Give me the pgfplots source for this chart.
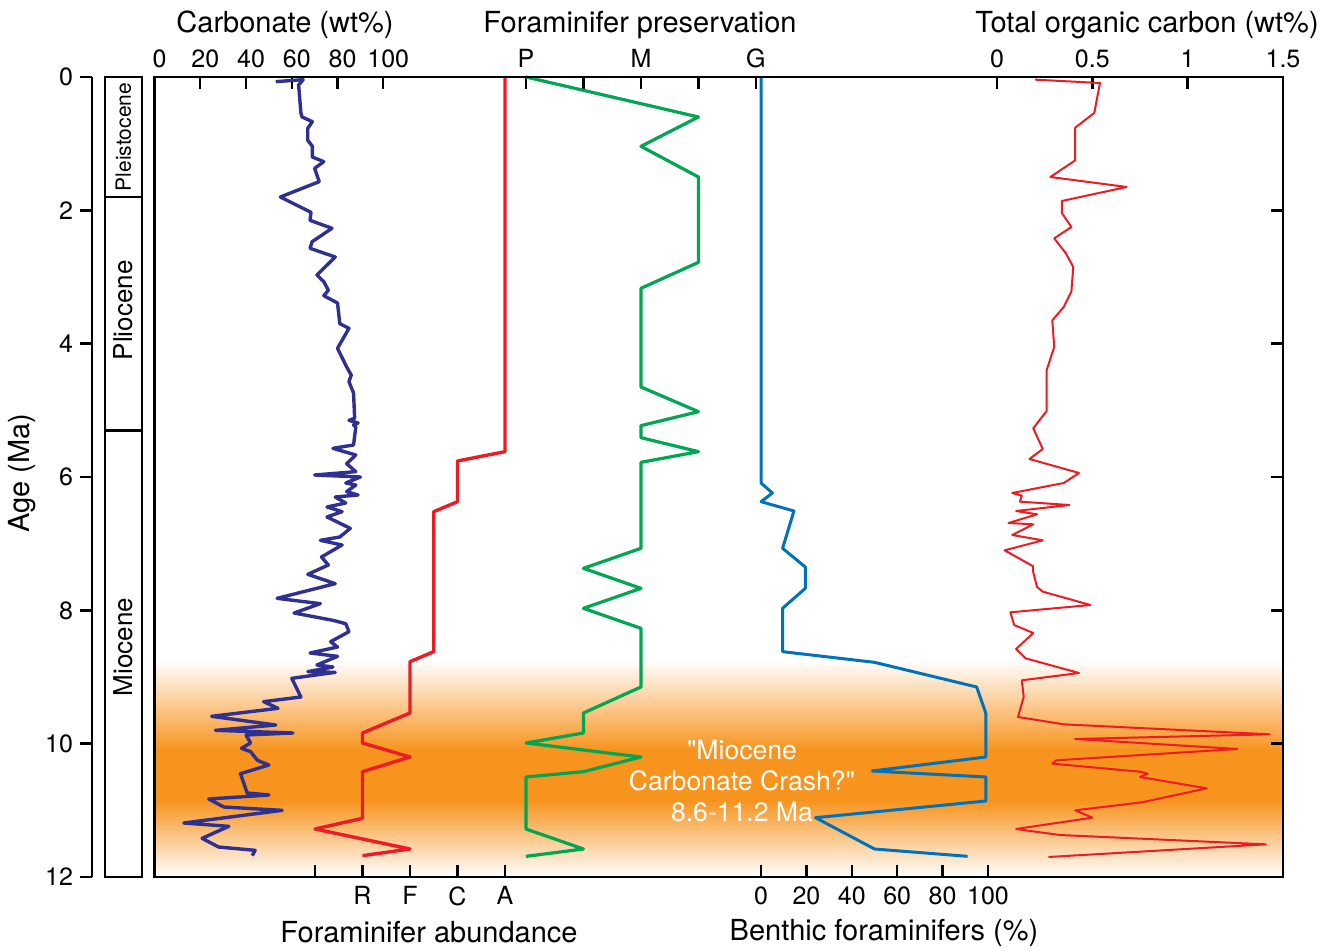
\documentclass[border=0pt]{standalone}
\usepackage{fontspec}
\setmainfont{TeX Gyre Heros}[Ligatures=TeXOff]
\usepackage{pgfplots}
\pgfplotsset{compat=1.18}
\definecolor{cnavy}{RGB}{46,49,146}
\definecolor{cred}{RGB}{237,28,36}
\definecolor{cgreen}{RGB}{0,166,81}
\definecolor{cblue}{RGB}{0,114,188}
\definecolor{corange}{RGB}{247,148,30}
\pgfplotsset{
 base/.style={scale only axis, width=564.25pt, height=400pt, at={(77.25pt,37pt)}, anchor=south west,
   ymin=0, ymax=12, y dir=reverse, tick align=inside, major tick length=6pt,
   every tick/.style={black, line width=1.2pt},
   tick label style={font=\fontsize{12.5}{15}\selectfont},
   /pgf/number format/assume math mode=true, clip=false},
 topx/.style={base, axis x line*=top, axis y line=none, ytick=\empty, axis line style={-, line width=1.3pt},
   xticklabel style={yshift=1.2pt}},
 botx/.style={base, axis x line*=bottom, axis y line=none, ytick=\empty, axis line style={-, line width=1.3pt},
   xticklabel style={yshift=-1.2pt}},
}
\begin{document}
\begin{tikzpicture}
\path[use as bounding box] (0,0) rectangle (669pt,475.5pt);
% main frame with band
\begin{axis}[base, xmin=0, xmax=1, xtick=\empty, ytick={0,2,...,12}, yticklabels={}, ytick pos=right,
  axis on top=true, axis line style={line width=1.3pt}]
\addplot[draw=none, top color=white, bottom color=corange] coordinates {(0,8.75)(1,8.75)(1,10.1)(0,10.1)} -- cycle;
\addplot[draw=none, fill=corange] coordinates {(0,10.08)(1,10.08)(1,10.87)(0,10.87)} -- cycle;
\addplot[draw=none, top color=corange, bottom color=white] coordinates {(0,10.85)(1,10.85)(1,12)(0,12)} -- cycle;
\node[text=white, align=center, font=\fontsize{13.3}{15.5}\selectfont] at (axis cs:0.5206,10.56) {"Miocene\\Carbonate Crash?"\\8.6-11.2 Ma};
\end{axis}
% carbonate
\begin{axis}[topx, xmin=0, xmax=493.3, xtick={0,20,...,100}, xticklabel style={xshift=2.5pt}]
\addplot[cnavy, line width=1.7pt, line join=round, mark=none] coordinates {
(53,0.07)(65,0.04)(63,0.12)(64,0.54)(64.5,0.6)(69,0.67)(67,0.77)(67,0.95)(69,1.04)(69,1.2)(74,1.27)(70,1.37)(72,1.57)(55,1.8)
(68.4,2.03)(68,2.15)(77.6,2.27)(68.9,2.47)(68,2.57)(79,2.7)(71,2.97)(74,3.07)(76,3.2)(74,3.28)(80,3.39)(81,3.7)(85,3.77)
(80,4.07)(84,4.35)(86,4.47)(85,4.57)(87,4.74)(87.5,5.12)(85,5.15)(89,5.19)(87,5.22)(88,5.25)(87,5.52)(78,5.57)(88,5.67)
(84,5.8)(88,5.92)(70,5.97)(90,6.0)(83.6,6.09)(88,6.12)(84,6.22)(89,6.27)(79,6.3)(83.6,6.39)(75.4,6.45)(82,6.52)(75.4,6.6)
(85.6,6.77)(81,6.9)(72.5,6.95)(82,7.02)(73,7.2)(76,7.32)(67,7.46)(79,7.6)(53.6,7.82)(72.5,7.9)(61,8.04)(78,8.15)(83.6,8.2)
(85,8.32)(77,8.47)(80,8.55)(68,8.64)(80,8.69)(71,8.82)(78,8.85)(67,8.92)(79,8.93)(60,9.02)(64,9.3)(47.7,9.37)(54,9.47)
(25,9.59)(53,9.72)(26.6,9.8)(60.5,9.84)(40,9.87)(42,9.99)(38,10.07)(42,10.12)(45,10.25)(50,10.32)(37.6,10.45)(40.5,10.74)
(50,10.77)(23.7,10.83)(30.3,10.95)(55.8,11.0)(12.8,11.19)(32.5,11.24)(20.8,11.42)(28,11.55)(44,11.6)(42.7,11.68)};
\end{axis}
% foraminifer abundance
\begin{axis}[botx, xmin=-3.379, xmax=20.379, xtick={0,1,2,3,4}, xticklabels={,R,F,C,A}]
\addplot[cred, line width=1.7pt, line join=round, mark=none] coordinates {
(4,0)(4,5.62)(3,5.76)(3,6.37)(2.5,6.52)(2.5,8.62)(2,8.77)(2,9.54)(1,9.84)(1,9.99)(2,10.2)(1,10.42)(1,11.12)(0,11.28)(2,11.58)(1,11.68)};
\end{axis}
% preservation
\begin{axis}[topx, xmin=-2.230, xmax=7.583, xtick={1,1.5,2,2.5,3}, xticklabels={P,,M,,G}]
\addplot[cgreen, line width=1.6pt, line join=round, mark=none] coordinates {
(1,0)(2.5,0.6)(2,1.04)(2.5,1.5)(2.5,2.78)(2,3.17)(2,4.65)(2.5,5.02)(2,5.23)(2,5.41)(2.5,5.62)(2,5.78)(2,7.07)(1.5,7.37)
(2,7.67)(1.5,7.97)(2,8.27)(2,9.15)(1.5,9.54)(1.5,9.84)(1,9.99)(2,10.2)(1.5,10.42)(1,10.5)(1,11.28)(1.5,11.58)(1,11.69)};
\end{axis}
% benthic
\begin{axis}[botx, xmin=-267.2, xmax=229.96, xtick={0,20,...,100}]
\addplot[cblue, line width=1.5pt, line join=round, mark=none] coordinates {
(0,0)(0,6.09)(5,6.24)(0,6.37)(14.5,6.51)(9.5,7.07)(19.5,7.35)(19.5,7.67)(9.5,7.97)(9.5,8.62)(50,8.78)(95,9.15)(99,9.54)
(99,10.2)(49,10.41)(99,10.5)(99,10.86)(24,11.11)(50,11.58)(91,11.69)};
\end{axis}
% TOC
\begin{axis}[topx, xmin=-4.419, xmax=1.5, xtick={0,0.5,1,1.5}]
\addplot[cred, line width=1pt, line join=round, mark=none] coordinates {
(0.20,0.04)(0.54,0.09)(0.51,0.54)(0.41,0.76)(0.41,1.25)(0.28,1.5)(0.68,1.65)(0.34,1.86)(0.34,2.04)(0.39,2.25)(0.30,2.42)
(0.36,2.64)(0.40,2.85)(0.39,3.22)(0.35,3.45)(0.29,3.65)(0.30,4.05)(0.26,4.4)(0.26,5.01)(0.19,5.27)(0.24,5.58)(0.17,5.73)
(0.43,5.94)(0.35,6.09)(0.08,6.24)(0.13,6.28)(0.12,6.37)(0.38,6.42)(0.10,6.51)(0.21,6.56)(0.06,6.69)(0.19,6.71)(0.08,6.87)
(0.24,6.95)(0.04,7.1)(0.19,7.34)(0.19,7.43)(0.21,7.65)(0.24,7.72)(0.49,7.92)(0.07,8.03)(0.09,8.22)(0.19,8.34)(0.10,8.58)
(0.15,8.72)(0.43,8.94)(0.13,9.05)(0.14,9.3)(0.11,9.6)(0.35,9.71)(1.43,9.86)(0.41,9.93)(1.26,10.08)(0.31,10.25)(0.29,10.3)
(0.75,10.42)(0.79,10.45)(0.75,10.5)(1.10,10.67)(0.76,10.88)(0.41,11.0)(0.50,11.11)(0.10,11.28)(0.33,11.37)(1.41,11.51)(0.27,11.7)};
\end{axis}
% age axis
\begin{axis}[scale only axis, width=20pt, height=400pt, at={(46pt,37pt)}, anchor=south west,
  xmin=0, xmax=1, ymin=0, ymax=12, y dir=reverse, axis y line*=left, axis x line=none, xtick=\empty,
  ytick={0,2,...,12}, tick align=outside, major tick length=6pt, axis line style={-, line width=1.3pt},
  every tick/.style={black, line width=1.2pt}, tick label style={font=\fontsize{12.5}{15}\selectfont},
  /pgf/number format/assume math mode=true]
\addplot[draw=none] coordinates {(0,0)};
\end{axis}
% epoch column
\begin{axis}[scale only axis, width=18.5pt, height=400pt, at={(52.5pt,37pt)}, anchor=south west,
  xmin=0, xmax=1, ymin=0, ymax=12, y dir=reverse, xtick=\empty, ytick=\empty, axis line style={line width=1.3pt}]
\addplot[black, line width=1.3pt] coordinates {(0,1.8)(1,1.8)};
\addplot[black, line width=1.3pt] coordinates {(0,5.3)(1,5.3)};
\node[rotate=90, font=\fontsize{10.5}{12}\selectfont] at (axis cs:0.5,0.9) {Pleistocene};
\node[rotate=90, font=\fontsize{13}{15}\selectfont] at (axis cs:0.5,3.5) {Pliocene};
\node[rotate=90, font=\fontsize{13}{15}\selectfont] at (axis cs:0.5,8.55) {Miocene};
\end{axis}
% titles
\begin{scope}[every node/.style={font=\fontsize{14.5}{17}\selectfont}]
\node at (142.5pt,463pt) {Carbonate (wt\%)};
\node at (320pt,463pt) {Foraminifer preservation};
\node at (573.5pt,463pt) {Total organic carbon (wt\%)};
\node at (214.5pt,9.5pt) {Foraminifer abundance};
\node at (442pt,9pt) {Benthic foraminifers (\%)};
\node[rotate=90] at (11pt,239pt) {Age (Ma)};
\end{scope}
\end{tikzpicture}
\end{document}
